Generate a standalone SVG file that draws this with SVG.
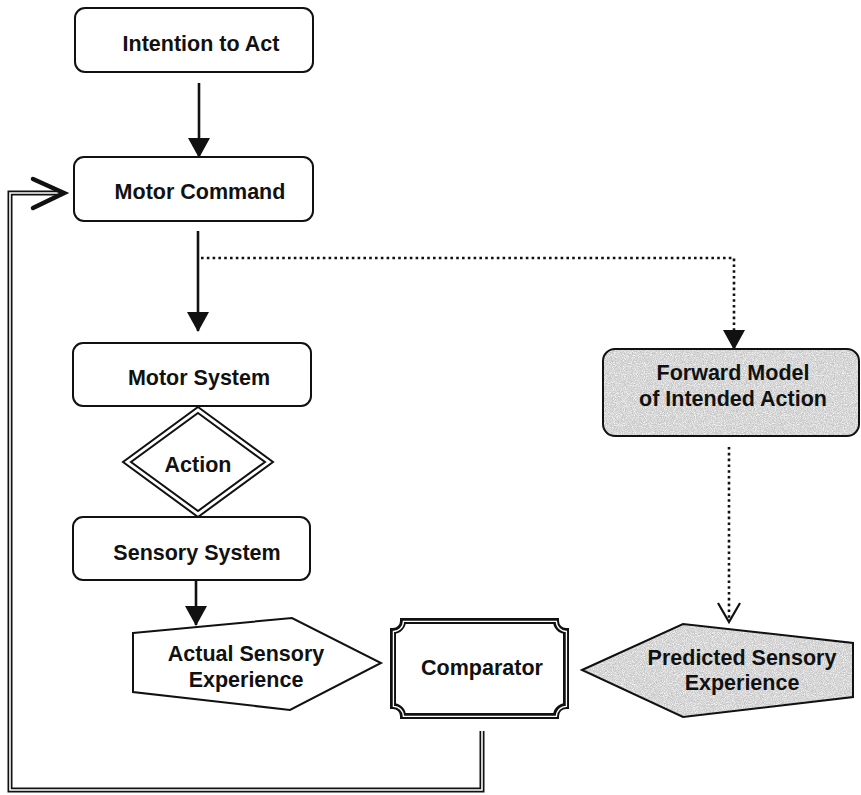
<svg xmlns="http://www.w3.org/2000/svg" width="861" height="795" viewBox="0 0 861 795">
  <style>
    .box { fill: #ffffff; stroke: #111; stroke-width: 2; }
    .lbl { font-family: "Liberation Sans", Arial, sans-serif; font-weight: bold; font-size: 21.5px; fill: #111; text-anchor: middle; }
    .solid { fill: none; stroke: #111; stroke-width: 2.6; }
    .dots { fill: none; stroke: #111; stroke-width: 2.6; stroke-dasharray: 2.6 3.2; }
    .outline { fill: none; stroke: #111; stroke-width: 2; }
  </style>
  <defs>
    <marker id="head" viewBox="0 0 20 22" refX="19" refY="11" markerWidth="20" markerHeight="22" markerUnits="userSpaceOnUse" orient="auto">
      <path d="M0,0 L20,11 L0,22 Z" fill="#111"/>
    </marker>
    <!-- speckled grey shading for the predictive elements -->
    <filter id="grain" x="0" y="0" width="100%" height="100%">
      <feTurbulence type="fractalNoise" baseFrequency="0.9" numOctaves="2" seed="7" result="noise"/>
      <feColorMatrix in="noise" type="matrix" values="0 0 0 0 0.5  0 0 0 0 0.5  0 0 0 0 0.5  0 0 0 2.6 -1.15" result="specks"/>
      <feTurbulence type="fractalNoise" baseFrequency="1.1" numOctaves="1" seed="19" result="noise2"/>
      <feColorMatrix in="noise2" type="matrix" values="0 0 0 0 1  0 0 0 0 1  0 0 0 0 1  0 0 0 2.6 -1.2" result="light"/>
      <feComposite in="specks" in2="SourceGraphic" operator="in" result="dark"/>
      <feComposite in="light" in2="SourceGraphic" operator="in" result="bright"/>
      <feMerge><feMergeNode in="SourceGraphic"/><feMergeNode in="dark"/><feMergeNode in="bright"/></feMerge>
    </filter>
  </defs>

  <!-- connectors -->
  <g id="connectors">
    <line class="solid" x1="199" y1="83" x2="199" y2="157" marker-end="url(#head)"/>
    <line class="solid" x1="198" y1="231" x2="198" y2="331" marker-end="url(#head)"/>
    <line class="solid" x1="196" y1="580" x2="196" y2="625" marker-end="url(#head)"/>
    <path class="dots" d="M201,258 H734 V349" marker-end="url(#head)"/>
    <path class="dots" d="M729,447 V620"/>
    <polyline fill="none" stroke="#111" stroke-width="2.2" points="718,603 729,622 740,603"/>
    <!-- feedback loop: double line from comparator back to motor command -->
    <path d="M482,731 V790 H10 V193 H60" fill="none" stroke="#111" stroke-width="5"/>
    <path d="M482,731 V790 H10 V193 H60" fill="none" stroke="#fff" stroke-width="1.6"/>
    <polyline fill="none" stroke="#111" stroke-width="4.5" stroke-linecap="round" points="33,179 64,193 33,208"/>
  </g>

  <g id="intention">
    <rect class="box" x="75" y="8" width="238" height="64" rx="10"/>
    <text class="lbl" x="201" y="51">Intention to Act</text>
  </g>

  <g id="motor-command">
    <rect class="box" x="74" y="157" width="239" height="64" rx="10"/>
    <text class="lbl" x="200" y="199">Motor Command</text>
  </g>

  <g id="motor-system">
    <rect class="box" x="73" y="343" width="238" height="63" rx="10"/>
    <text class="lbl" x="199" y="385">Motor System</text>
  </g>

  <g id="action">
    <polygon class="box" points="198,407 273,462 198,517 123,462"/>
    <polygon class="outline" points="198,413 265,462 198,511 131,462"/>
    <text class="lbl" x="198" y="472">Action</text>
  </g>

  <g id="sensory-system">
    <rect class="box" x="73" y="517" width="237" height="63" rx="10"/>
    <text class="lbl" x="197" y="560">Sensory System</text>
  </g>

  <g id="actual-experience">
    <polygon class="box" points="133,633 292,618 381,663 290,710 133,692"/>
    <text class="lbl" x="246" y="661">Actual Sensory</text>
    <text class="lbl" x="246" y="687">Experience</text>
  </g>

  <g id="comparator">
    <path d="M403,621 H556 A10,10 0 0 0 566,631 V706 A10,10 0 0 0 556,716 H403 A10,10 0 0 0 393,706 V631 A10,10 0 0 0 403,621 Z" fill="#fff" stroke="#111" stroke-width="6"/>
    <path d="M403,621 H556 A10,10 0 0 0 566,631 V706 A10,10 0 0 0 556,716 H403 A10,10 0 0 0 393,706 V631 A10,10 0 0 0 403,621 Z" fill="none" stroke="#fff" stroke-width="1.3" transform="translate(0.4,0.4)"/>
    <text class="lbl" x="482" y="675">Comparator</text>
  </g>

  <g id="forward-model">
    <rect x="603" y="349" width="256" height="87" rx="12" fill="#d4d4d4" filter="url(#grain)"/>
    <rect class="outline" x="603" y="349" width="256" height="87" rx="12"/>
    <text class="lbl" x="733" y="380">Forward Model</text>
    <text class="lbl" x="733" y="406">of Intended Action</text>
  </g>

  <g id="predicted-experience">
    <polygon points="582,670 683,624 853,643 853,697 683,717" fill="#d4d4d4" filter="url(#grain)"/>
    <polygon class="outline" points="582,670 683,624 853,643 853,697 683,717"/>
    <text class="lbl" x="742" y="665">Predicted Sensory</text>
    <text class="lbl" x="742" y="690">Experience</text>
  </g>
</svg>
